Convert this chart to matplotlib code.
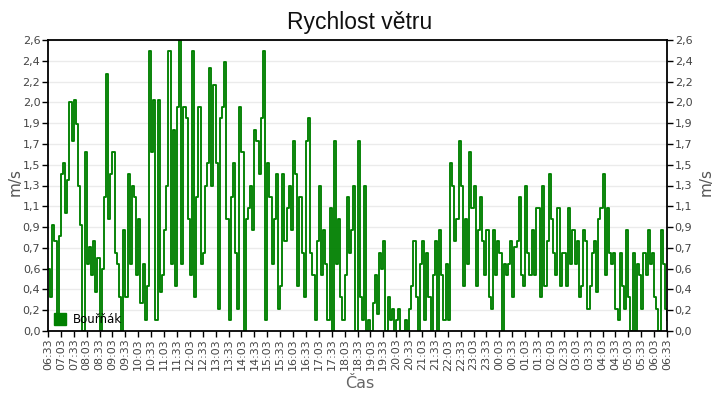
import numpy as np
import matplotlib
matplotlib.use("Agg")
import matplotlib.pyplot as plt
from matplotlib.lines import Line2D

# wind speed [m/s], one sample every 5 minutes from 06:33 (12 values per hour)
speed = [
    0.55, 0.3, 0.95, 0.8, 0.1, 0.85, 1.4, 1.5, 1.05, 1.35, 2.05, 1.7,   # 06:33
    2.06, 1.85, 1.3, 0.95, 0.0, 1.6, 0.6, 0.75, 0.5, 0.8, 0.35, 0.65,   # 07:33
    0.0, 0.55, 1.2, 2.3, 1.0, 1.4, 1.6, 0.7, 0.6, 0.3, 0.0, 0.9,        # 08:33
    0.3, 1.4, 0.6, 1.3, 1.2, 0.5, 1.0, 0.25, 0.6, 0.1, 0.4, 2.5,        # 09:33
    1.6, 2.06, 0.1, 2.06, 0.35, 0.5, 0.9, 1.3, 2.5, 0.6, 1.8, 0.4,      # 10:33
    2.0, 2.6, 0.6, 2.0, 1.9, 1.0, 0.5, 2.5, 0.3, 1.2, 2.0, 0.6,         # 11:33
    0.7, 1.3, 1.5, 2.35, 1.3, 2.2, 1.5, 0.2, 1.9, 2.0, 2.4, 1.0,        # 12:33
    0.1, 1.2, 1.5, 0.7, 0.2, 2.0, 1.6, 0.0, 1.0, 1.1, 1.3, 0.9,         # 13:33
    1.8, 1.7, 1.4, 1.9, 2.5, 0.1, 1.5, 1.2, 0.6, 1.0, 1.4, 0.2,         # 14:33
    0.4, 1.4, 0.8, 1.1, 1.3, 0.9, 1.7, 1.4, 0.4, 1.2, 0.7, 0.3,         # 15:33
    1.7, 1.9, 0.7, 0.5, 0.1, 0.8, 1.3, 0.5, 0.9, 0.6, 0.1, 1.1,         # 16:33
    0.0, 1.7, 0.6, 1.0, 0.3, 0.1, 0.5, 1.2, 0.7, 0.9, 1.3, 0.0,         # 17:33
    1.7, 0.3, 0.1, 1.3, 0.0, 0.1, 0.0, 0.25, 0.5, 0.15, 0.7, 0.55,      # 18:33
    0.8, 0.0, 0.3, 0.1, 0.2, 0.0, 0.1, 0.2, 0.0, 0.0, 0.1, 0.0,         # 19:33
    0.2, 0.4, 0.8, 0.3, 0.0, 0.6, 0.8, 0.1, 0.7, 0.3, 0.0, 0.5,         # 20:33
    0.8, 0.0, 0.9, 0.5, 0.1, 0.6, 0.1, 1.5, 1.3, 0.8, 1.0, 1.7,         # 21:33
    1.3, 0.4, 1.0, 0.6, 1.6, 1.1, 1.3, 0.4, 0.9, 1.2, 0.8, 0.5,         # 22:33
    0.9, 0.3, 0.2, 0.9, 0.5, 0.8, 0.7, 0.0, 0.6, 0.5, 0.6, 0.8,         # 23:33
    0.3, 0.75, 0.8, 1.2, 0.5, 0.4, 1.3, 0.7, 0.5, 0.9, 0.5, 1.1,        # 00:33
    1.1, 0.3, 1.3, 0.4, 0.8, 1.4, 1.0, 0.7, 0.5, 1.1, 0.4, 0.7,         # 01:33
    0.7, 0.4, 1.1, 0.6, 0.9, 0.6, 0.8, 0.3, 0.4, 0.9, 0.8, 0.2,         # 02:33
    0.4, 0.7, 0.8, 0.35, 1.0, 1.1, 1.4, 0.5, 1.1, 0.7, 0.6, 0.7,        # 03:33
    0.2, 0.1, 0.7, 0.4, 0.2, 0.9, 0.3, 0.0, 0.7, 0.0, 0.6, 0.5,         # 04:33
    0.2, 0.7, 0.5, 0.9, 0.6, 0.7, 0.3, 0.2, 0.0, 0.9, 0.6, 0.2,         # 05:33
    0.1,
]
step_min = 5

time_labels = ["06:33", "07:03", "07:33", "08:03", "08:33", "09:03", "09:33",
               "10:03", "10:33", "11:03", "11:33", "12:03", "12:33", "13:03",
               "13:33", "14:03", "14:33", "15:03", "15:33", "16:03", "16:33",
               "17:03", "17:33", "18:03", "18:33", "19:03", "19:33", "20:03",
               "20:33", "21:03", "21:33", "22:03", "22:33", "23:03", "23:33",
               "00:03", "00:33", "01:03", "01:33", "02:03", "02:33", "03:03",
               "03:33", "04:03", "04:33", "05:03", "05:33", "06:03", "06:33"]
y_labels = ["0,0", "0,2", "0,4", "0,6", "0,7", "0,9", "1,1", "1,3",
            "1,5", "1,7", "1,9", "2,0", "2,2", "2,4", "2,6"]
series_name = "Bouřňák"

green = "#008000"
txt = "#444444"

fig = plt.figure(figsize=(7.2, 4.0), dpi=100)
ax = fig.add_axes([48 / 720, 69 / 400, 619 / 720, 291 / 400])

minutes = np.arange(len(speed)) * step_min
ax.step(minutes, speed, where="post", color=green, lw=1.35)

ax.set_xlim(0, 1440)
ax.set_ylim(0, 2.6)
ax.set_xticks(np.arange(len(time_labels)) * 30)
ax.set_xticklabels(time_labels, rotation=90)
ax.set_yticks(np.linspace(0, 2.6, len(y_labels)))
ax.set_yticklabels(y_labels)

ax.grid(axis="y", color="#ebebeb", lw=1)
ax.set_axisbelow(True)
for s in ax.spines.values():
    s.set_color("black")
    s.set_linewidth(1.3)

ax.tick_params(axis="both", direction="out", length=4, width=1, color="black",
               labelsize=8, labelcolor=txt, pad=1.5)
ax.tick_params(axis="y", right=True, labelright=True)

handle = Line2D([], [], marker="s", color=green, linestyle="none", markersize=8)
ax.legend([handle], [series_name], loc="center left", bbox_to_anchor=(0.0, 0.04),
          frameon=False, borderpad=0.2, borderaxespad=0.3, handlelength=1.0,
          handletextpad=0.6, fontsize=8.5)

fig.text(0.5, 1 - 23 / 400, "Rychlost větru", ha="center", va="center",
         fontsize=16.5, family="Liberation Sans", color="#111111")
fig.text(15 / 720, 1 - 182 / 400, "m/s", rotation=90, ha="center", va="center",
         fontsize=11, color="#555555")
fig.text(706 / 720, 1 - 182 / 400, "m/s", rotation=90, ha="center", va="center",
         fontsize=11, color="#555555")
fig.text(360 / 720, 1 - 384 / 400, "Čas", ha="center", va="center",
         fontsize=11.5, color="#666666")

fig.savefig("out.png", dpi=100)
